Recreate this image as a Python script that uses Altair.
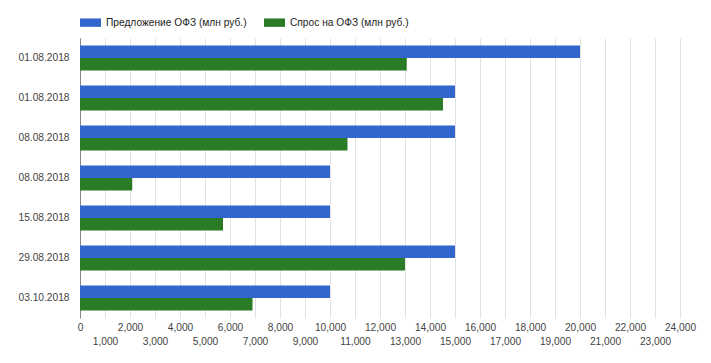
import json
import altair as alt
import pandas as pd

dates = ["01.08.2018", "01.08.2018", "08.08.2018", "08.08.2018", "15.08.2018", "29.08.2018", "03.10.2018"]
supply = [20000, 15000, 15000, 10000, 10000, 15000, 10000]
demand = [13070, 14520, 10700, 2090, 5720, 13000, 6900]
series_names = ["Предложение ОФЗ (млн руб.)", "Спрос на ОФЗ (млн руб.)"]
series_colors = ["#3366cc", "#2b7a26"]
x_ticks = list(range(0, 25000, 1000))

rows = []
for i, d in enumerate(dates):
    rows.append({"key": str(i), "series": series_names[0], "value": supply[i]})
    rows.append({"key": str(i), "series": series_names[1], "value": demand[i]})
df = pd.DataFrame(rows)

label_expr = json.dumps(dates) + "[toNumber(datum.value)]"
font = "Liberation Sans"
fs = 10.2

chart = alt.Chart(df).mark_bar().encode(
    x=alt.X("value:Q",
            scale=alt.Scale(domain=[0, 24000], nice=False),
            axis=alt.Axis(values=x_ticks, title=None, format=",d",
                          labelExpr="datum.value % 2000 == 0 ? datum.label : ['', datum.label]",
                          labelOverlap=False, labelLineHeight=14, labelBaseline="top",
                          labelFlush=False,
                          labelPadding=4, tickSize=0, domain=False,
                          grid=True, gridColor="#e2e2e2", labelFontSize=fs,
                          labelColor="#444444", labelFont=font)),
    y=alt.Y("key:N", sort=[str(i) for i in range(len(dates))],
            scale=alt.Scale(paddingInner=0.375, paddingOuter=0.1875),
            axis=alt.Axis(title=None, labelExpr=label_expr, tickSize=0, labelPadding=11,
                          domainColor="#888888", labelFontSize=fs, labelColor="#444444",
                          labelFont=font)),
    yOffset=alt.YOffset("series:N", sort=series_names,
                        scale=alt.Scale(paddingInner=0, paddingOuter=0)),
    color=alt.Color("series:N", sort=series_names,
                    scale=alt.Scale(domain=series_names, range=series_colors),
                    legend=alt.Legend(title=None, orient="none", direction="horizontal",
                                      legendX=0, legendY=-26,
                                      symbolType="M-1,-0.4L1,-0.4L1,0.4L-1,0.4Z",
                                      symbolSize=441, symbolStrokeWidth=0,
                                      symbolOpacity=1,
                                      labelOffset=5, columnPadding=17,
                                      labelFontSize=fs, labelColor="#222222",
                                      labelFont=font)),
).properties(
    width=600, height=280,
    autosize=alt.AutoSizeParams(type="none"),
    padding={"left": 72, "top": 30, "right": 23, "bottom": 37},
).configure_view(stroke=None)

chart.save("out.html", embed_options={"renderer": "svg", "actions": False})
